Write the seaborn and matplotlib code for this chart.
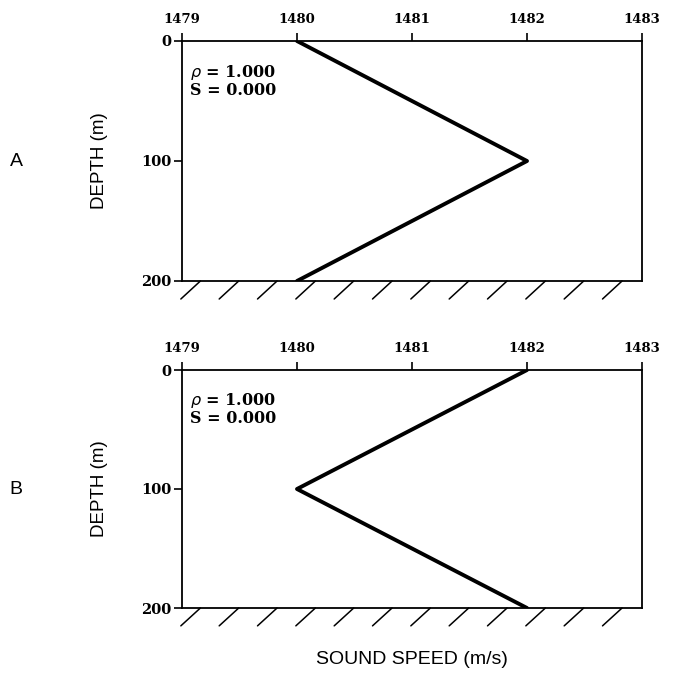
import numpy as np
import pandas as pd
import matplotlib
matplotlib.use("Agg")
import matplotlib.pyplot as plt
import seaborn as sns

# Sound-speed profiles (depth in m, speed in m/s)
depth = [0, 100, 200]
speed_a = [1480, 1482, 1480]
speed_b = [1482, 1480, 1482]
panel_labels = ["A", "B"]
x_ticks = [1479, 1480, 1481, 1482, 1483]
y_ticks = [0, 100, 200]
density = "1.000"
salinity = "0.000"

sns.set_theme(style="white")
plt.rcParams["font.family"] = ["DejaVu Serif"]
plt.rcParams["text.color"] = "black"
plt.rcParams["axes.labelcolor"] = "black"

fig = plt.figure(figsize=(6.98, 6.78), dpi=100)
W, H = 698, 678
left, right = 182, 642
panels = [(41, 281), (370, 608)]

xtick_font = dict(family="DejaVu Serif", weight="bold", size=9.5)
ytick_font = dict(family="DejaVu Serif", weight="bold", size=10.5)

for (top, bot), label, speeds in zip(panels, panel_labels, [speed_a, speed_b]):
    ax = fig.add_axes([left / W, 1 - bot / H, (right - left) / W, (bot - top) / H])
    df = pd.DataFrame({"depth": depth, "speed": speeds})
    sns.lineplot(data=df, x="speed", y="depth", sort=False, estimator=None,
                 color="black", linewidth=2.8, ax=ax)
    ax.set_xlim(x_ticks[0], x_ticks[-1])
    ax.set_ylim(y_ticks[-1], y_ticks[0])
    ax.xaxis.tick_top()
    ax.set_xticks(x_ticks)
    ax.set_yticks(y_ticks)
    ax.set_xticklabels([str(t) for t in x_ticks], fontdict=xtick_font, color="black")
    ax.set_yticklabels([str(t) for t in y_ticks], fontdict=ytick_font, color="black")
    ax.tick_params(axis="x", direction="out", length=6, width=1.2, pad=5,
                   colors="black", top=True, bottom=False)
    ax.tick_params(axis="y", direction="out", length=6, width=1.2, pad=1.5,
                   colors="black", left=True)
    for s in ax.spines.values():
        s.set_color("black")
        s.set_linewidth(1.3)
    ax.set_xlabel("")
    ax.set_ylabel("DEPTH (m)", family="Liberation Sans", size=13.5, color="black")
    ax.yaxis.label.set_va("center")
    ax.yaxis.set_label_coords((100 - left) / (right - left), 0.5)
    ax.grid(False)

    # property annotation
    ax.text(1479.07, 26, r"$\rho$ = " + density, family="DejaVu Serif",
            weight="bold", size=11.5, va="center", ha="left", color="black")
    ax.text(1479.07, 41, "S = " + salinity, family="DejaVu Serif",
            weight="bold", size=11.5, va="center", ha="left", color="black")

    # seafloor hatching below the bottom boundary
    x0, x1 = ax.get_xlim()
    step = (x1 - x0) / 12
    for xs in np.arange(x0 + 0.16, x1, step)[:12]:
        ax.plot([xs - 0.17, xs], [y_ticks[-1] + 15, y_ticks[-1]], color="black",
                linewidth=1.1, clip_on=False)

    fig.text(16 / W, 1 - (top + bot) / 2 / H, label, family="Liberation Sans",
             size=14, ha="center", va="center", color="black")

fig.text((left + right) / 2 / W, 1 - 660 / H, "SOUND SPEED (m/s)",
         family="Liberation Sans", size=14, ha="center", va="center", color="black")

fig.savefig("out.png", dpi=100, facecolor="white")
